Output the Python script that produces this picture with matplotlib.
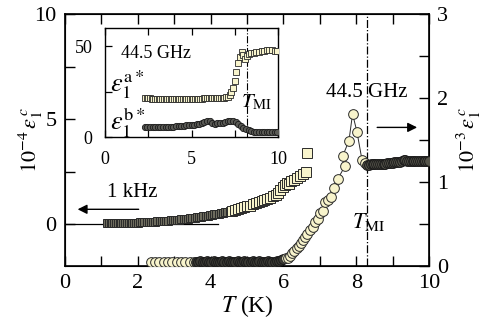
import matplotlib
matplotlib.use("Agg")
import matplotlib.pyplot as plt

plt.rcParams['font.family'] = ['Liberation Serif', 'DejaVu Serif']
plt.rcParams['mathtext.fontset'] = 'stix'

# ---- main panel: 1 kHz squares (left axis, 10^-4 eps) ----
sq_T = [1.15, 1.2, 1.25, 1.3, 1.35, 1.4, 1.45, 1.5, 1.55, 1.6, 1.65, 1.7, 1.75, 1.8, 1.85, 1.9, 1.95, 2.0,
        2.06, 2.12, 2.18, 2.24, 2.3, 2.36, 2.42, 2.48, 2.54, 2.6, 2.66, 2.72, 2.78, 2.84, 2.9, 2.96,
        3.02, 3.08, 3.14, 3.2, 3.26, 3.32, 3.38, 3.44, 3.5, 3.56, 3.62, 3.68, 3.74, 3.8, 3.86, 3.92, 3.98,
        4.04, 4.1, 4.16, 4.22, 4.28, 4.34, 4.4, 4.46, 4.52,
        4.6, 4.68, 4.76, 4.84, 4.92, 5.0, 5.08, 5.16, 5.24, 5.32, 5.4, 5.48, 5.56, 5.64, 5.72, 5.8,
        5.86, 5.92, 5.98, 6.04, 6.1, 6.16, 6.22, 6.3, 6.38, 6.46, 6.54, 6.62, 6.65]
sq_v = [0.05, 0.05, 0.05, 0.05, 0.05, 0.05, 0.05, 0.05, 0.06, 0.06, 0.06, 0.06, 0.06, 0.07, 0.07, 0.07, 0.07, 0.07,
        0.08, 0.08, 0.09, 0.09, 0.10, 0.10, 0.11, 0.11, 0.12, 0.13, 0.13, 0.14, 0.15, 0.16, 0.17, 0.18,
        0.19, 0.20, 0.21, 0.22, 0.23, 0.25, 0.26, 0.27, 0.29, 0.30, 0.32, 0.33, 0.35, 0.37, 0.38, 0.40, 0.42,
        0.44, 0.46, 0.48, 0.50, 0.52, 0.54, 0.56, 0.58, 0.61,
        0.64, 0.68, 0.72, 0.76, 0.80, 0.84, 0.88, 0.93, 0.98, 1.03, 1.08, 1.13, 1.19, 1.25, 1.32, 1.40,
        1.50, 1.62, 1.75, 1.85, 1.95, 1.90, 2.05, 2.10, 2.20, 2.30, 2.40, 2.50, 3.40]

# ---- main panel: 44.5 GHz circles (right axis, 10^-3 eps) ----
ci_T = [2.35, 2.47, 2.59, 2.71, 2.83, 2.95, 3.07, 3.19, 3.31, 3.43, 3.55,
        3.6, 3.66, 3.72, 3.78, 3.84, 3.9, 3.96, 4.02, 4.08, 4.14, 4.2, 4.26, 4.32, 4.38, 4.44, 4.5,
        4.56, 4.62, 4.68, 4.74, 4.8, 4.86, 4.92, 4.98, 5.04, 5.1, 5.16, 5.22, 5.28, 5.34, 5.4, 5.46,
        5.52, 5.58, 5.64, 5.7, 5.76, 5.82, 5.88, 5.94, 6.0,
        6.06, 6.12, 6.18, 6.24, 6.3, 6.36, 6.42, 6.48, 6.54, 6.6, 6.66, 6.73, 6.8, 6.87, 6.95, 7.0,
        7.09, 7.14, 7.22, 7.3, 7.39, 7.5, 7.69, 7.63, 7.8, 7.9, 8.02, 8.16, 8.24,
        8.3, 8.35, 8.4, 8.45, 8.5, 8.55, 8.6, 8.65, 8.7, 8.75, 8.8, 8.85, 8.9, 8.95, 9.0, 9.05, 9.1,
        9.15, 9.2, 9.25, 9.3, 9.35, 9.4, 9.45, 9.5, 9.55, 9.6, 9.65, 9.7, 9.75, 9.8, 9.85, 9.9, 9.95, 10.0]
ci_v = [0.05, 0.05, 0.05, 0.05, 0.05, 0.05, 0.05, 0.05, 0.05, 0.05, 0.05,
        0.05, 0.05, 0.06, 0.05, 0.05, 0.06, 0.05, 0.05, 0.06, 0.05, 0.05, 0.05, 0.06, 0.05, 0.05, 0.06,
        0.05, 0.05, 0.05, 0.06, 0.05, 0.05, 0.06, 0.05, 0.05, 0.05, 0.06, 0.05, 0.05, 0.06, 0.05, 0.05,
        0.05, 0.06, 0.05, 0.05, 0.05, 0.06, 0.06, 0.07, 0.08,
        0.09, 0.10, 0.12, 0.15, 0.18, 0.21, 0.24, 0.27, 0.31, 0.34, 0.38, 0.43, 0.47, 0.52, 0.56, 0.63,
        0.66, 0.76, 0.79, 0.82, 0.93, 1.04, 1.19, 1.31, 1.49, 1.81, 1.60, 1.26, 1.23,
        1.20, 1.20, 1.21, 1.21, 1.21, 1.21, 1.22, 1.22, 1.22, 1.22, 1.22, 1.23, 1.23, 1.23, 1.23, 1.24, 1.24,
        1.24, 1.24, 1.25, 1.26, 1.26, 1.25, 1.25, 1.25, 1.25, 1.25, 1.25, 1.25, 1.25, 1.25, 1.25, 1.25, 1.25, 1.25]

# ---- inset: eps1 a* squares and eps1 b* circles ----
ia_T = [2.3, 2.4, 2.5, 2.6, 2.7, 2.8, 2.9, 3.0, 3.1, 3.2, 3.3, 3.4, 3.5, 3.6, 3.7, 3.8, 3.9, 4.0,
        4.1, 4.2, 4.3, 4.4, 4.5, 4.6, 4.7, 4.8, 4.9, 5.0, 5.1, 5.2, 5.3, 5.4, 5.5, 5.6, 5.7, 5.8,
        5.9, 6.0, 6.1, 6.2, 6.3, 6.4, 6.5, 6.6, 6.7, 6.8, 6.9, 7.0,
        7.1, 7.2, 7.3, 7.4, 7.5, 7.6, 7.7, 7.8, 7.9, 8.0, 8.1, 8.2, 8.3,
        8.45, 8.6, 8.75, 8.9, 9.05, 9.2, 9.35, 9.5, 9.65, 9.8, 9.95]
ia_v = [21.5, 21.4, 21.3, 21.2, 21.1, 21.0, 21.0, 20.9, 20.9, 20.8, 20.8, 20.8, 20.8, 20.8, 20.8, 20.8, 20.8, 20.8,
        20.8, 20.8, 20.9, 20.9, 20.9, 20.9, 21.0, 21.0, 21.0, 21.0, 21.0, 21.0, 21.1, 21.1, 21.1, 21.1, 21.2, 21.2,
        21.2, 21.2, 21.2, 21.3, 21.3, 21.3, 21.4, 21.4, 21.5, 21.5, 21.7, 22.0,
        22.0, 23.0, 24.5, 27.0, 31.0, 36.0, 41.0, 44.0, 47.0, 45.0, 43.0, 44.5, 45.5,
        46.0, 46.5, 46.8, 47.0, 47.3, 47.5, 47.7, 47.8, 47.8, 47.6, 47.5]
ib_T = [2.3, 2.45, 2.6, 2.75, 2.9, 3.05, 3.2, 3.35, 3.5, 3.65, 3.8, 3.95, 4.1, 4.25, 4.4, 4.55, 4.7, 4.85,
        5.0, 5.15, 5.3, 5.45, 5.6, 5.75, 5.9, 6.05, 6.2, 6.35, 6.5, 6.65, 6.8, 6.95, 7.1, 7.25, 7.4, 7.55,
        7.7, 7.85, 8.0, 8.15, 8.3, 8.45, 8.6, 8.75, 8.9, 9.05, 9.2, 9.35, 9.5, 9.65, 9.8, 9.95]
ib_v = [5.5, 5.4, 5.3, 5.3, 5.3, 5.3, 5.4, 5.4, 5.5, 5.5, 5.6, 5.7, 5.8, 6.0, 6.1, 6.2, 6.4, 6.5,
        6.6, 6.8, 7.0, 7.3, 7.8, 8.4, 8.8, 8.6, 7.8, 7.4, 7.5, 7.6, 7.9, 8.2, 8.6, 8.9, 8.7, 8.0,
        7.0, 6.0, 5.0, 4.3, 3.7, 3.3, 3.0, 2.8, 2.7, 2.6, 2.6, 2.5, 2.5, 2.5, 2.5, 2.5]

T_MI_main = 8.3
T_MI_inset = 8.2

face = '#f8f4cc'
dark_face = '#6e6c5e'
edge = '#2a2a2a'

fig = plt.figure(figsize=(4.86, 3.32), dpi=100)
ax = fig.add_axes([65/486, 66/332, 364/486, 252/332])
ax2 = ax.twinx()

# left axis
ax.set_xlim(0, 10)
ax.set_ylim(-2, 10)
ax.plot([0, 4.2], [0, 0], color='k', lw=0.9, zorder=1)
n_sq_dense = 60
ax.plot(sq_T[:n_sq_dense], sq_v[:n_sq_dense], 's', ms=6, mfc=dark_face, mec=edge, mew=0.7, zorder=3)
ax.plot(sq_T[n_sq_dense:], sq_v[n_sq_dense:], 's', ms=6.5, mfc=face, mec=edge, mew=0.7, zorder=3)
ax.set_xticks([0, 2, 4, 6, 8, 10])
ax.set_xticks([1, 3, 5, 7, 9], minor=True)
ax.set_yticks([0, 5, 10])
ax.set_yticks([2.5, 7.5], minor=True)
ax.tick_params(which='both', direction='in', top=True, right=False, labelsize=16, width=1.0)
ax.tick_params(which='major', length=7, pad=6)
ax.tick_params(which='minor', length=7)
for s in ax.spines.values():
    s.set_linewidth(1.2)
ax.set_xlabel('$T$ (K)', fontsize=17, labelpad=0)
ax.set_ylabel(r'$10^{-4}\,\varepsilon_1^{\,c}$', fontsize=16)
ax.yaxis.label.set_va('center')
ax.yaxis.label.set_ha('center')
ax.yaxis.set_label_coords(-0.095, 0.5)
ax.axvline(T_MI_main, color='k', lw=0.9, ls='-.', zorder=1)

# right axis
ax2.set_ylim(0, 3)
ax2.plot(ci_T, ci_v, '-', color=edge, lw=0.7, zorder=2)
ax2.plot(ci_T[:11], ci_v[:11], 'o', ms=7, mfc=face, mec=edge, mew=0.7, zorder=3)
ax2.plot(ci_T[11:52], ci_v[11:52], 'o', ms=7, mfc='#3c3b35', mec='#1a1a1a', mew=0.7, zorder=3)
ax2.plot(ci_T[52:81], ci_v[52:81], 'o', ms=7, mfc=face, mec=edge, mew=0.7, zorder=3)
ax2.plot(ci_T[81:], ci_v[81:], 'o', ms=7, mfc='#55544a', mec='#1a1a1a', mew=0.7, zorder=3)
ax2.set_yticks([0, 1, 2, 3])
ax2.set_yticks([0.5, 1.5, 2.5], minor=True)
ax2.tick_params(which='both', direction='in', labelsize=16, length=7, width=1.0, pad=6)
ax2.set_ylabel(r'$10^{-3}\,\varepsilon_1^{\,c}$', fontsize=16, rotation=90)
ax2.yaxis.label.set_va('center')
ax2.yaxis.label.set_ha('center')
ax2.yaxis.set_label_coords(1.11, 0.5)

# annotations main
ax.annotate('', xy=(0.27, 0.7), xytext=(2.1, 0.7),
            arrowprops=dict(arrowstyle='-|>', color='k', lw=1.0, mutation_scale=14))
ax.text(1.85, 1.5, '1 kHz', fontsize=15, ha='center', va='center')
ax2.annotate('', xy=(9.75, 1.65), xytext=(8.5, 1.65),
             arrowprops=dict(arrowstyle='-|>', color='k', lw=1.0, mutation_scale=14))
ax2.text(8.3, 2.06, '44.5 GHz', fontsize=15, ha='center', va='center')
ax2.text(8.35, 0.52, r'$T_{\mathrm{MI}}$', fontsize=16, ha='center', va='center')

# inset
axi = fig.add_axes([105/486, 195/332, 173/486, 109/332])
axi.set_xlim(0, 10)
axi.set_ylim(0, 60)
axi.axvline(T_MI_inset, color='k', lw=0.8, ls='-.', zorder=1)
axi.plot(ia_T, ia_v, 's', ms=4.5, mfc=face, mec=edge, mew=0.6, zorder=3)
axi.plot(ib_T, ib_v, 'o', ms=4.5, mfc='#5a5a55', mec='#1a1a1a', mew=0.6, zorder=3)
axi.set_xticks([0, 5, 10])
axi.set_xticks([2.5, 7.5], minor=True)
axi.set_yticks([0, 50])
axi.set_yticks([25], minor=True)
axi.tick_params(which='both', direction='in', top=True, right=False, labelsize=13,
                length=5, width=0.9)
axi.tick_params(axis='x', pad=10)
axi.tick_params(axis='y', pad=9)
for s in axi.spines.values():
    s.set_linewidth(1.0)
axi.text(0.9, 46, '44.5 GHz', fontsize=13, ha='left', va='center')
axi.text(0.3, 29, r'$\varepsilon_1^{\mathrm{a}*}$', fontsize=19, ha='left', va='center')
axi.text(0.3, 8, r'$\varepsilon_1^{\mathrm{b}*}$', fontsize=19, ha='left', va='center')
axi.text(7.85, 19, r'$T_{\mathrm{MI}}$', fontsize=15, ha='left', va='center')

fig.savefig('out.png', dpi=100)
